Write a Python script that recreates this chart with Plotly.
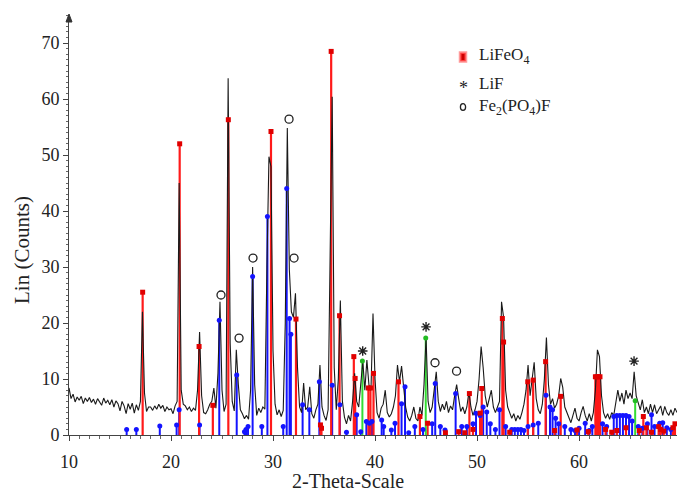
import plotly.graph_objects as go

# ---------------- data ----------------
two_theta_start = 10.0
two_theta_step = 0.2
counts = [
    8.4, 6.5, 7.3, 5.9, 6.8,   # 10
    6.2, 6.9, 5.6, 6.6, 6.0,   # 11
    6.7, 5.8, 6.4, 5.5, 6.5,   # 12
    6.0, 5.3, 6.6, 5.7, 6.2,   # 13
    5.4, 6.3, 5.0, 6.1, 5.6,   # 14
    4.3, 6.0, 5.2, 3.8, 5.6,   # 15
    4.6, 5.7, 3.9, 5.4, 4.4,   # 16
    6.0, 22.0, 7.5, 4.2, 5.0,  # 17
    5.0, 4.4, 5.2, 4.6, 5.5,   # 18
    4.8, 5.3, 4.2, 5.0, 4.5,   # 19
    4.7, 3.8, 5.2, 6.0, 45.0,  # 20
    8.0, 5.5, 5.2, 4.5, 5.0,   # 21
    4.2, 4.8, 4.4, 8.0, 18.4,  # 22
    7.0, 4.0, 3.8, 4.5, 5.5,   # 23
    6.0, 8.4, 4.8, 11.0, 23.8, # 24
    8.0, 4.2, 5.5, 63.7, 16.4, # 25
    6.0, 4.3, 15.2, 9.0, 4.5,  # 26
    3.8, 2.9, 3.5, 2.8, 8.0,   # 27
    30.0, 9.0, 3.5, 4.8, 4.0,  # 28
    5.0, 4.6, 30.0, 49.7, 47.9,  # 29
    15.0, 5.5, 3.6, 4.5, 3.3,  # 30
    4.4, 20.0, 54.8, 29.5, 22.0,  # 31
    21.0, 25.3, 12.0, 5.0, 4.0,   # 32
    9.3, 4.5, 5.0, 8.6, 3.8,   # 33
    3.0, 4.5, 5.5, 12.5, 5.0,  # 34
    3.5, 2.6, 4.5, 38.0, 60.4, # 35
    12.0, 4.5, 10.0, 24.0, 6.0,  # 36
    3.2, 2.0, 3.5, 2.5, 6.0,   # 37
    11.0, 6.0, 5.0, 9.0, 13.2, # 38
    8.0, 13.4, 9.0, 8.0, 21.7, # 39
    10.0, 4.0, 3.0, 4.8, 5.5,  # 40
    8.0, 4.0, 3.2, 3.8, 5.0,   # 41
    7.0, 12.5, 9.5, 12.3, 8.0, # 42
    5.0, 3.2, 2.5, 3.5, 5.0,   # 43
    3.0, 2.5, 5.0, 3.5, 9.0,   # 44
    17.5, 6.0, 4.0, 5.0, 8.0,  # 45
    11.3, 6.0, 4.2, 5.5, 4.5,  # 46
    6.0, 4.0, 5.2, 4.5, 7.0,   # 47
    9.0, 6.5, 4.2, 5.0, 3.8,   # 48
    5.0, 7.7, 5.0, 3.5, 4.5,   # 49
    6.0, 10.0, 15.8, 12.0, 7.0,  # 50
    5.0, 6.5, 8.0, 5.0, 4.0,   # 51
    5.0, 6.0, 23.8, 21.0, 8.0, # 52
    5.0, 4.0, 3.0, 3.8, 2.5,   # 53
    3.5, 2.8, 4.0, 5.5, 8.0,   # 54
    12.5, 7.0, 10.0, 13.0, 6.5,  # 55
    4.5, 3.8, 5.5, 10.0, 17.4, # 56
    9.0, 5.5, 6.5, 4.8, 5.5,   # 57
    7.0, 10.1, 8.5, 5.0, 4.0,  # 58
    3.0, 2.2, 3.5, 4.8, 3.0,   # 59
    2.5, 4.0, 5.1, 3.5, 2.5,   # 60
    3.8, 2.5, 4.0, 8.0, 15.2,  # 61
    14.0, 7.0, 4.0, 3.0, 3.8,  # 62
    2.8, 4.0, 3.5, 5.5, 8.0,   # 63
    6.0, 7.5, 5.5, 8.0, 6.5,   # 64
    7.5, 6.5, 11.3, 7.0, 5.5,  # 65
    4.5, 6.3, 4.0, 5.0, 3.8,   # 66
    5.5, 4.0, 5.4, 3.8, 4.5,   # 67
    5.2, 3.5, 5.1, 4.0, 3.5,   # 68
    4.5, 3.5, 4.8, 4.0,        # 69
]

# LiFeO4 reference lines (red)
lifeo4_2theta = [17.22, 20.85, 22.75, 24.1, 25.62, 29.8, 32.25, 34.65, 34.75, 35.7,
                 36.52, 37.92, 38.05, 39.35, 39.55, 39.85, 42.3, 44.4, 45.15, 46.9,
                 48.2, 48.8, 49.25, 49.6, 50.3, 50.46, 52.48, 52.6, 53.2, 54.97,
                 55.5, 56.72, 57.6, 58.2, 59.8, 60.9, 61.6, 61.75, 61.9, 62.05,
                 62.6, 63.2, 63.7, 64.6, 65.9, 66.3, 66.6, 67.1, 67.8, 68.0,
                 68.3, 69.2, 69.4]
lifeo4_counts = [25.5, 52.0, 15.8, 5.3, 56.3, 54.2, 20.7, 1.8, 1.2, 68.5,
                 21.3, 14.0, 10.1, 8.4, 8.4, 11.0, 9.5, 3.3, 2.1, 0.4,
                 0.6, 0.4, 7.4, 1.0, 3.9, 8.3, 20.8, 16.6, 0.5, 9.5,
                 9.8, 13.1, 0.8, 6.9, 0.9, 0.6, 10.4, 10.4, 10.4, 10.4,
                 1.0, 0.5, 0.8, 1.3, 0.8, 3.3, 1.3, 0.5, 1.5, 1.0,
                 0.7, 1.3, 2.0]

# Fe2(PO4)F reference lines (blue)
fe2po4f_2theta = [15.65, 16.6, 18.9, 20.55, 20.8, 22.8, 24.73, 26.44, 27.2, 27.35,
                  27.55, 28.0, 28.9, 29.45, 31.0, 31.34, 31.62, 31.75, 32.9, 33.56,
                  34.54, 35.8, 36.55, 37.2, 38.2, 38.6, 39.15, 39.45, 39.7, 40.65,
                  40.85, 41.6, 41.96, 42.6, 42.94, 43.3, 43.9, 44.7, 45.6, 45.9,
                  46.4, 46.86, 47.9, 48.5, 49.0, 49.6, 49.9, 50.3, 50.6, 50.95,
                  51.3, 51.8, 52.2, 52.8, 53.4, 53.7, 54.0, 54.3, 54.6, 55.0,
                  55.5, 56.0, 56.76, 57.15, 57.4, 57.7, 58.0, 58.6, 59.2, 59.6,
                  60.0, 60.6, 61.0, 61.3, 62.3, 62.7, 63.4, 63.7, 64.0, 64.3,
                  64.6, 64.9, 65.2, 65.8, 66.2, 66.7, 67.1, 67.4, 67.9, 68.2,
                  68.6, 69.0]
fe2po4f_counts = [1.0, 1.0, 1.6, 1.8, 4.5, 1.8, 20.5, 10.7, 0.6, 1.0,
                  1.5, 28.3, 1.5, 39.0, 1.5, 44.0, 20.8, 18.0, 5.4, 4.5,
                  9.5, 8.9, 5.4, 0.5, 3.6, 0.6, 2.4, 2.1, 2.4, 2.7,
                  1.5, 0.9, 2.1, 5.6, 8.6, 0.4, 1.5, 1.0, 2.0, 9.2,
                  1.5, 0.9, 7.4, 1.5, 1.5, 2.0, 3.9, 3.5, 5.0, 4.1,
                  2.0, 1.0, 4.5, 1.5, 1.0, 1.0, 1.0, 1.0, 0.8, 1.5,
                  1.8, 2.1, 7.1, 5.0, 4.5, 3.0, 2.0, 1.5, 1.0, 0.8,
                  1.2, 2.1, 0.8, 1.5, 2.0, 1.5, 3.3, 3.5, 3.5, 3.5,
                  3.5, 3.3, 2.5, 1.5, 1.2, 2.0, 3.6, 1.5, 2.1, 2.2,
                  1.3, 1.0]

# LiF reference lines (green)
lif_2theta = [38.76, 44.97, 65.5]
lif_counts = [13.2, 17.3, 6.1]

# peak labels
circle_2theta = [24.9, 26.67, 28.04, 31.57, 32.06, 45.88, 47.99]
circle_counts = [25.0, 17.3, 31.6, 56.4, 31.6, 12.9, 11.4]
star_2theta = [38.79, 45.0, 65.39]
star_counts = [15.0, 19.3, 13.2]

# ---------------- figure ----------------
x_scan = [two_theta_start + i * two_theta_step for i in range(len(counts))]


def sticks(xs, hs):
    X, Y = [], []
    for x, h in zip(xs, hs):
        X += [x, x, None]
        Y += [0, h, None]
    return X, Y


RED = "#ff1a1a"
BLUE = "#1414ff"
GREEN = "#33dd33"
SERIF = "Liberation Serif, Times New Roman, serif"
TXT = "#222222"

fig = go.Figure()

bx, by = sticks(fe2po4f_2theta, fe2po4f_counts)
fig.add_trace(go.Scatter(x=bx, y=by, mode="lines", line=dict(color=BLUE, width=2), hoverinfo="skip"))
rx, ry = sticks(lifeo4_2theta, lifeo4_counts)
fig.add_trace(go.Scatter(x=rx, y=ry, mode="lines", line=dict(color=RED, width=2.2), hoverinfo="skip"))
gx, gy = sticks(lif_2theta, lif_counts)
fig.add_trace(go.Scatter(x=gx, y=gy, mode="lines", line=dict(color=GREEN, width=2), hoverinfo="skip"))

fig.add_trace(go.Scatter(x=x_scan, y=counts, mode="lines",
                         line=dict(color="#1a1a1a", width=1.1)))

fig.add_trace(go.Scatter(x=fe2po4f_2theta, y=fe2po4f_counts, mode="markers",
                         marker=dict(symbol="circle", size=5, color=BLUE)))
fig.add_trace(go.Scatter(x=lifeo4_2theta, y=lifeo4_counts, mode="markers",
                         marker=dict(symbol="square", size=5, color="#e00000"), cliponaxis=False))
fig.add_trace(go.Scatter(x=lif_2theta, y=lif_counts, mode="markers",
                         marker=dict(symbol="circle", size=5, color="#22bb22")))

fig.add_trace(go.Scatter(x=circle_2theta, y=circle_counts, mode="markers",
                         marker=dict(symbol="circle-open", size=8, color="#222",
                                     line=dict(width=1.3, color="#222"))))
fig.add_trace(go.Scatter(x=star_2theta, y=star_counts, mode="markers",
                         marker=dict(symbol="asterisk-open", size=8, color="#222",
                                     line=dict(width=1.4, color="#222"))))

L, R, T, B = 69, 0, 15, 61
W, H = 677, 496
pw, ph = W - L - R, H - T - B


def px(xp):
    return (xp - L) / pw


def py(yp):
    return (H - B - yp) / ph


annotations = [
    dict(x=px(348), y=py(481), xref="paper", yref="paper", text="2-Theta-Scale",
         showarrow=False, font=dict(family=SERIF, size=20, color=TXT),
         xanchor="center", yanchor="middle"),
    dict(x=px(22), y=py(250), xref="paper", yref="paper", text="Lin (Counts)",
         textangle=-90, showarrow=False, font=dict(family=SERIF, size=21, color=TXT),
         xanchor="center", yanchor="middle"),
    dict(x=px(477), y=py(56), xref="paper", yref="paper", text="LiFeO<sub>4</sub>",
         showarrow=False, font=dict(family=SERIF, size=17, color=TXT),
         xanchor="left", yanchor="middle"),
    dict(x=px(463), y=py(88), xref="paper", yref="paper", text="*",
         showarrow=False, font=dict(family=SERIF, size=18, color=TXT),
         xanchor="center", yanchor="middle"),
    dict(x=px(477), y=py(84), xref="paper", yref="paper", text="LiF",
         showarrow=False, font=dict(family=SERIF, size=17, color=TXT),
         xanchor="left", yanchor="middle"),
    dict(x=px(477), y=py(107), xref="paper", yref="paper", text="Fe<sub>2</sub>(PO<sub>4</sub>)F",
         showarrow=False, font=dict(family=SERIF, size=17, color=TXT),
         xanchor="left", yanchor="middle"),
]

shapes = [
    # arrow head at the top of the y axis
    dict(type="path", xref="paper", yref="paper", xsizemode="pixel", ysizemode="pixel",
         xanchor=0, yanchor=1, path="M -3 -7 L 3 -7 L 0 1 Z",
         fillcolor="#333", line=dict(color="#333", width=1)),
    dict(type="rect", xref="paper", yref="paper", xsizemode="pixel", ysizemode="pixel",
         xanchor=px(463), yanchor=py(57), x0=-3.5, x1=3.5, y0=-5, y1=5,
         fillcolor="#ff4040", line=dict(color="#ff9a9a", width=1.5)),
    dict(type="rect", xref="paper", yref="paper", xsizemode="pixel", ysizemode="pixel",
         xanchor=px(463), yanchor=py(57), x0=-1.5, x1=1.5, y0=-3, y1=3,
         fillcolor="#cc0000", line=dict(width=0)),
    dict(type="circle", xref="paper", yref="paper", xsizemode="pixel", ysizemode="pixel",
         xanchor=px(463), yanchor=py(107), x0=-2.6, x1=2.6, y0=-3.4, y1=3.4,
         line=dict(color="#222", width=1.3)),
]

fig.update_layout(
    width=W, height=H,
    margin=dict(l=L, r=R, t=T, b=B, autoexpand=False),
    paper_bgcolor="white", plot_bgcolor="white",
    showlegend=False,
    annotations=annotations,
    shapes=shapes,
    xaxis=dict(range=[10, 69.6], tickmode="array", tickvals=[10, 20, 30, 40, 50, 60],
               ticks="outside", ticklen=5, tickwidth=1, tickcolor="#444", automargin=False,
               showline=True, linecolor="#444", linewidth=1, showgrid=False, zeroline=False,
               tickfont=dict(family=SERIF, size=18, color=TXT), ticklabelstandoff=5,
               minor=dict(dtick=1, ticks="outside", ticklen=3, tickcolor="#666", showgrid=False)),
    yaxis=dict(range=[0, 75], tickmode="array", tickvals=[0, 10, 20, 30, 40, 50, 60, 70],
               ticks="outside", ticklen=5, tickwidth=1, tickcolor="#444", automargin=False,
               showline=True, linecolor="#444", linewidth=1, showgrid=False, zeroline=False,
               tickfont=dict(family=SERIF, size=18, color=TXT),
               minor=dict(dtick=1, ticks="outside", ticklen=2.5, tickcolor="#666", showgrid=False)),
)

fig.write_html("out.html", config={"displayModeBar": False},
               post_script="document.body.style.margin='0';document.body.style.padding='0';")
